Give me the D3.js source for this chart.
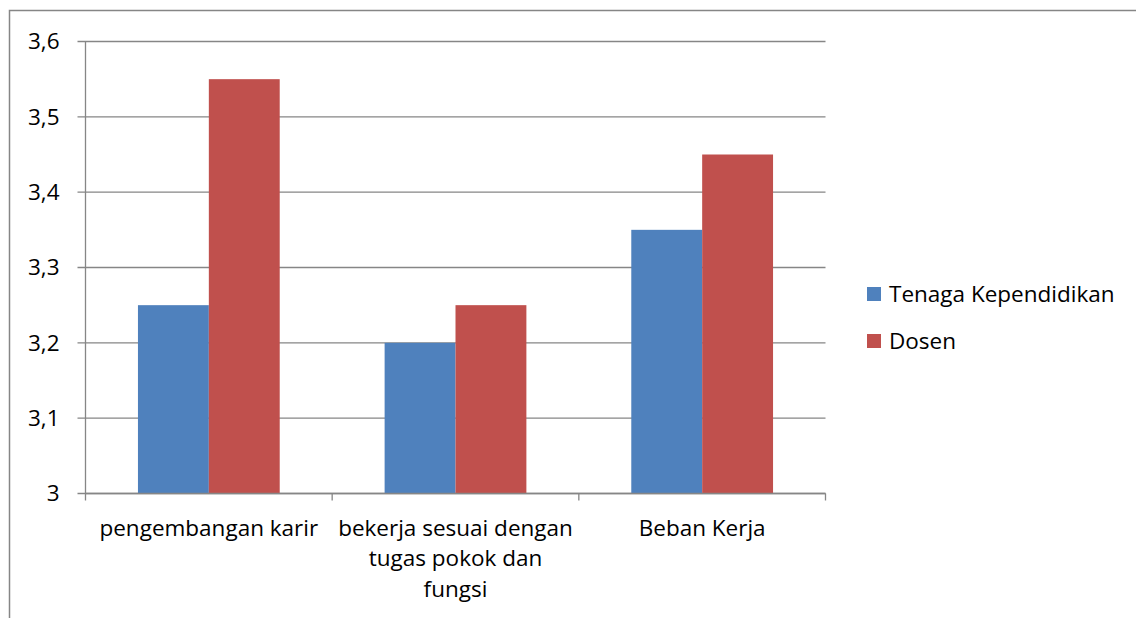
<!DOCTYPE html>
<html>
<head>
<meta charset="utf-8">
<script src="https://cdn.jsdelivr.net/npm/d3@7"></script>
<style>
  body { margin: 0; background: #fff; }
  svg { display: block; font-family: "Open Sans", sans-serif; }
</style>
</head>
<body>
<svg id="chart" width="1136" height="618"></svg>
<script>
// Chart data
const categories = ['pengembangan karir', 'bekerja sesuai dengan tugas pokok dan fungsi', 'Beban Kerja'];
const categoryLines = [
    ['pengembangan karir'],
    ['bekerja sesuai dengan', 'tugas pokok dan', 'fungsi'],
    ['Beban Kerja']
];
const seriesNames = ['Tenaga Kependidikan', 'Dosen'];
const tenagaValues = [3.25, 3.2, 3.35];
const dosenValues = [3.55, 3.25, 3.45];
const yTicks = [3, 3.1, 3.2, 3.3, 3.4, 3.5, 3.6];
const colors = ['#4F81BD', '#C0504D'];

const svg = d3.select('#chart');
const fontSize = 22.5;
const gridColor = '#868686';

// Outer frame (chart area border)
svg.append('rect')
    .attr('x', 9.5).attr('y', 10.5)
    .attr('width', 1200).attr('height', 700)
    .attr('fill', 'none')
    .attr('stroke', gridColor)
    .attr('stroke-width', 1.5);

const plot = { left: 85.5, right: 825.5, top: 41.5, bottom: 493.5 };

const x = d3.scaleBand()
    .domain(categories)
    .range([plot.left, plot.right]);

const x1 = d3.scaleBand()
    .domain(seriesNames)
    .range([0, x.bandwidth()])
    .paddingInner(0)
    .paddingOuter(0.74);

const y = d3.scaleLinear()
    .domain([3, 3.6])
    .range([plot.bottom, plot.top]);

const fmt = v => d3.format('.1f')(v).replace('.', ',').replace(',0', '');

// Gridlines
svg.append('g')
    .selectAll('line')
    .data(yTicks)
    .join('line')
    .attr('x1', plot.left - 8)
    .attr('x2', plot.right)
    .attr('y1', d => y(d))
    .attr('y2', d => y(d))
    .attr('stroke', gridColor)
    .attr('stroke-width', 1.3);

// Y axis labels
svg.append('g')
    .selectAll('text')
    .data(yTicks)
    .join('text')
    .attr('x', plot.left - 26)
    .attr('y', d => y(d))
    .attr('dy', '0.35em')
    .attr('text-anchor', 'end')
    .attr('font-size', fontSize)
    .attr('fill', '#000')
    .text(d => fmt(d));

// Bars
const rows = categories.map((c, i) => ({ cat: c, values: [tenagaValues[i], dosenValues[i]] }));
const groups = svg.append('g')
    .selectAll('g')
    .data(rows)
    .join('g')
    .attr('transform', d => `translate(${x(d.cat)},0)`);

groups.selectAll('rect')
    .data(d => d.values.map((v, j) => ({ name: seriesNames[j], value: v, color: colors[j] })))
    .join('rect')
    .attr('x', d => x1(d.name))
    .attr('y', d => y(d.value))
    .attr('width', x1.bandwidth())
    .attr('height', d => y(3) - y(d.value))
    .attr('fill', d => d.color);

// Y axis line
svg.append('line')
    .attr('x1', plot.left).attr('x2', plot.left)
    .attr('y1', plot.top).attr('y2', plot.bottom + 7)
    .attr('stroke', gridColor)
    .attr('stroke-width', 1.3);

// X axis line and ticks
svg.append('line')
    .attr('x1', plot.left).attr('x2', plot.right)
    .attr('y1', plot.bottom).attr('y2', plot.bottom)
    .attr('stroke', gridColor)
    .attr('stroke-width', 1.3);

svg.append('g')
    .selectAll('line')
    .data(categories)
    .join('line')
    .attr('x1', d => x(d) + x.bandwidth())
    .attr('x2', d => x(d) + x.bandwidth())
    .attr('y1', plot.bottom)
    .attr('y2', plot.bottom + 7)
    .attr('stroke', gridColor)
    .attr('stroke-width', 1.3);

// Category labels
const labels = svg.append('g')
    .selectAll('text')
    .data(categories)
    .join('text')
    .attr('x', d => x(d) + x.bandwidth() / 2)
    .attr('y', plot.bottom + 42)
    .attr('text-anchor', 'middle')
    .attr('font-size', fontSize)
    .attr('fill', '#000');

labels.selectAll('tspan')
    .data((d, i) => categoryLines[i])
    .join('tspan')
    .attr('x', function () { return d3.select(this.parentNode).attr('x'); })
    .attr('dy', (d, i) => i === 0 ? 0 : 30.5)
    .text(d => d);

// Legend
const legend = svg.append('g')
    .attr('transform', 'translate(867, 287)');

const items = legend.selectAll('g')
    .data(seriesNames)
    .join('g')
    .attr('transform', (d, i) => `translate(0, ${i * 47})`);

items.append('rect')
    .attr('width', 14)
    .attr('height', 14)
    .attr('fill', (d, i) => colors[i]);

items.append('text')
    .attr('x', 22)
    .attr('y', 7)
    .attr('dy', '0.35em')
    .attr('font-size', fontSize)
    .attr('fill', '#000')
    .text(d => d);
</script>
</body>
</html>
